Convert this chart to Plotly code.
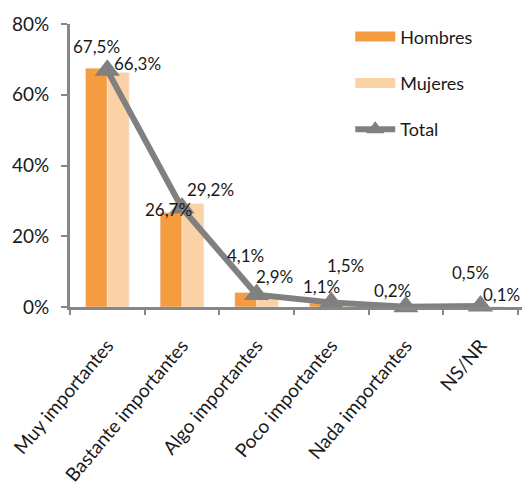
import plotly.graph_objects as go

categories = ["Muy importantes", "Bastante importantes", "Algo importantes",
              "Poco importantes", "Nada importantes", "NS/NR"]
hombres = [67.5, 26.7, 4.1, 1.1, 0.2, 0.5]
mujeres = [66.3, 29.2, 2.9, 1.5, 0.0, 0.1]
total = [66.9, 28.0, 3.5, 1.3, 0.1, 0.3]
y_ticks = [0, 20, 40, 60, 80]
y_tick_labels = ["0%", "20%", "40%", "60%", "80%"]

# label offsets (pixels) relative to category center / value
h_label_shift = [(-11, 22), (-13, 3), (-11, 37), (-10, 17), (-13, 16), (-10, 33)]
m_label_shift = [(30, 9), (29, 14), (18, 20), (14, 36), None, (21, 12)]

C_H = "#F69C40"
C_M = "#FBD2A6"
C_T = "#808080"
AX = "#878787"
FONT = "Lato"

def fmt(v):
    return f"{v:.1f}".replace(".", ",") + "%"

fig = go.Figure()
fig.add_trace(go.Bar(x=categories, y=hombres, name="Hombres", marker_color=C_H,
                     showlegend=False))
fig.add_trace(go.Bar(x=categories, y=mujeres, name="Mujeres", marker_color=C_M,
                     showlegend=False))
fig.add_trace(go.Scatter(x=categories, y=total, name="Total", mode="lines+markers",
                         line=dict(color=C_T, width=6),
                         marker=dict(symbol="triangle-up", size=22, color=C_T),
                         showlegend=False, cliponaxis=False))
# legend entries
fig.add_trace(go.Scatter(x=[None], y=[None], name="Hombres", mode="lines",
                         line=dict(color=C_H, width=13), legendgroup="h"))
fig.add_trace(go.Scatter(x=[None], y=[None], name="Mujeres", mode="lines",
                         line=dict(color=C_M, width=13), legendgroup="m"))
fig.add_trace(go.Scatter(x=[None], y=[None], name="Total", mode="lines+markers",
                         line=dict(color=C_T, width=6),
                         marker=dict(symbol="triangle-up", size=18, color=C_T),
                         legendgroup="t"))

annotations = []
for i, c in enumerate(categories):
    for vals, shifts in ((hombres, h_label_shift), (mujeres, m_label_shift)):
        s = shifts[i]
        if s is None:
            continue
        annotations.append(dict(x=c, y=vals[i], text=fmt(vals[i]), showarrow=False,
                                xshift=s[0], yshift=s[1], xanchor="center",
                                yanchor="middle",
                                font=dict(family=FONT, size=17, color="#1a1a1a")))

fig.update_layout(
    width=526, height=490,
    margin=dict(l=70, r=4, t=24, b=183, autoexpand=False),
    paper_bgcolor="white", plot_bgcolor="white",
    barmode="group", bargap=0.416, bargroupgap=0,
    font=dict(family=FONT, size=17, color="#1a1a1a"),
    annotations=annotations,
    legend=dict(x=0.62, y=1.02, xanchor="left", yanchor="top",
                font=dict(family=FONT, size=18, color="#1a1a1a"),
                tracegroupgap=20, itemwidth=40, bgcolor="rgba(0,0,0,0)"),
    xaxis=dict(showline=True, linecolor=AX, linewidth=3, ticks="outside",
               tickson="boundaries", ticklen=5, tickwidth=2, tickcolor=AX,
               tickangle=-50, ticklabelstandoff=17, showgrid=False, automargin=False,
               tickfont=dict(family=FONT, size=19, color="#1a1a1a")),
    yaxis=dict(range=[0, 80], tickvals=y_ticks, ticktext=y_tick_labels,
               showline=True, linecolor=AX, linewidth=3, ticks="outside",
               ticklen=6, tickwidth=2, tickcolor=AX, showgrid=False, zeroline=False,
               ticklabelstandoff=8, automargin=False,
               tickfont=dict(family=FONT, size=19, color="#1a1a1a")),
)

fig.write_html("out.html", config={"displayModeBar": False},
               post_script="document.body.style.margin='0';document.body.style.overflow='hidden';")
